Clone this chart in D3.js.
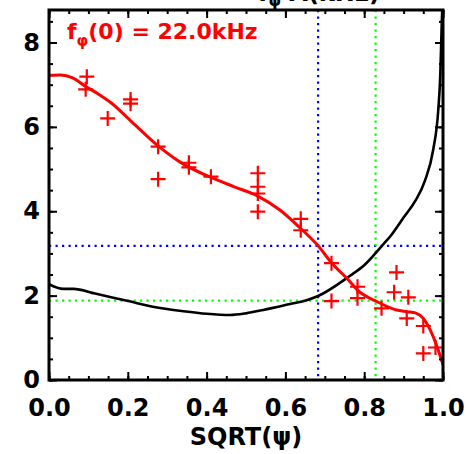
<!DOCTYPE html>
<html>
<head>
<meta charset="utf-8">
<script src="https://cdn.jsdelivr.net/npm/d3@7"></script>
<style>
  html, body { margin: 0; padding: 0; background: #fff; }
  svg { display: block; }
  text { font-family: "DejaVu Sans", sans-serif; font-weight: bold; }
</style>
</head>
<body>
<svg id="chart" width="466" height="454"></svg>
<script>
// Measured toroidal rotation frequency (kHz) vs SQRT(psi)
const measX = [0.096, 0.093, 0.149, 0.207, 0.207, 0.277, 0.277, 0.355, 0.355, 0.411,
               0.530, 0.530, 0.530, 0.530, 0.639, 0.639, 0.717, 0.717, 0.783, 0.783,
               0.844, 0.876, 0.882, 0.912, 0.908, 0.950, 0.950, 0.981];
const measY = [7.19, 6.89, 6.20, 6.65, 6.55, 5.53, 4.76, 5.15, 5.04, 4.82,
               4.90, 4.58, 4.42, 3.99, 3.82, 3.55, 2.77, 1.87, 2.21, 1.94,
               1.70, 2.08, 2.55, 1.96, 1.46, 1.28, 0.63, 0.77];

// Fitted rotation profile
const fitX = [0.00, 0.03, 0.06, 0.091, 0.125, 0.159, 0.21, 0.277, 0.332, 0.411, 0.47,
              0.530, 0.586, 0.639, 0.683, 0.717, 0.764, 0.783, 0.832, 0.882, 0.91,
              0.93, 0.95, 0.975, 0.99, 1.0];
const fitY = [7.22, 7.23, 7.16, 6.97, 6.78, 6.56, 6.12, 5.55, 5.17, 4.80, 4.58,
              4.36, 4.03, 3.59, 3.18, 2.78, 2.33, 2.13, 1.86, 1.66, 1.62,
              1.59, 1.46, 1.03, 0.65, 0.36];

// Safety-factor style profile (black curve)
const qX = [0.000, 0.036, 0.062, 0.117, 0.201, 0.286, 0.341, 0.40, 0.459, 0.50, 0.544,
            0.612, 0.65, 0.683, 0.764, 0.80, 0.845, 0.87, 0.90, 0.93, 0.954, 0.975,
            0.988, 0.993, 0.997, 1.0];
const qY = [2.27, 2.16, 2.16, 2.05, 1.87, 1.70, 1.63, 1.57, 1.54, 1.58, 1.66,
            1.80, 1.88, 1.99, 2.47, 2.72, 3.18, 3.45, 3.85, 4.25, 4.72, 5.45,
            6.40, 7.20, 8.50, 9.20];

// Reference markers (dotted lines)
const blueX = 0.683, blueY = 3.18;
const greenX = 0.829, greenY = 1.88;

const xMajor = [0, 0.2, 0.4, 0.6, 0.8, 1.0];
const xMinor = d3.range(0, 1.0001, 0.05);
const yMajor = [0, 2, 4, 6, 8];
const yMinor = d3.range(0, 8.7, 0.5);

const svg = d3.select("#chart");
const L = 49, R = 443, T = 10, B = 380;

const x = d3.scaleLinear().domain([0, 1]).range([L, R]);
const y = d3.scaleLinear().domain([0, 8.77]).range([B, T]);

svg.append("defs").append("clipPath").attr("id", "plotclip")
  .append("rect").attr("x", L).attr("y", T).attr("width", R - L).attr("height", B - T);

const plot = svg.append("g").attr("clip-path", "url(#plotclip)");

// Dotted reference lines
function dotted(x1, y1, x2, y2, color) {
  plot.append("line")
    .attr("x1", x1).attr("y1", y1).attr("x2", x2).attr("y2", y2)
    .attr("stroke", color).attr("stroke-width", 2.2)
    .attr("stroke-dasharray", "2.2,4.3");
}
dotted(x(blueX), T, x(blueX), B, "#0000ff");
dotted(L, y(blueY), R, y(blueY), "#0000ff");
dotted(x(greenX), T, x(greenX), B, "#00ff00");
dotted(L, y(greenY), R, y(greenY), "#00ff00");

const line = d3.line().x(d => x(d[0])).y(d => y(d[1])).curve(d3.curveMonotoneX);

plot.append("path")
  .datum(d3.zip(qX, qY))
  .attr("d", line)
  .attr("fill", "none").attr("stroke", "#000").attr("stroke-width", 2.6);

plot.append("path")
  .datum(d3.zip(fitX, fitY))
  .attr("d", line)
  .attr("fill", "none").attr("stroke", "#ff0000").attr("stroke-width", 3);

// Plus-sign markers for measurements
const arm = 7.5;
plot.append("g").selectAll("path")
  .data(d3.zip(measX, measY))
  .join("path")
  .attr("d", d => {
    const cx = x(d[0]), cy = y(d[1]);
    return `M${cx - arm},${cy}H${cx + arm}M${cx},${cy - arm}V${cy + arm}`;
  })
  .attr("stroke", "#ff0000").attr("stroke-width", 2.2).attr("fill", "none");

// Axes with inward ticks on all four sides
function styleAxis(g) {
  g.select(".domain").remove();
  g.selectAll(".tick line").attr("stroke", "#000").attr("stroke-width", 2);
  g.selectAll("text").attr("font-size", 24).attr("fill", "#000")
    .style("font-family", "'DejaVu Sans', sans-serif").style("font-weight", "bold");
}

svg.append("g").attr("transform", `translate(0,${B})`)
  .call(d3.axisBottom(x).tickValues(xMinor).tickSizeInner(-4).tickSizeOuter(0).tickFormat(""))
  .call(styleAxis);
svg.append("g").attr("transform", `translate(0,${B})`)
  .call(d3.axisBottom(x).tickValues(xMajor).tickSizeInner(-8).tickSizeOuter(0)
        .tickPadding(19).tickFormat(d3.format(".1f")))
  .call(styleAxis);
svg.append("g").attr("transform", `translate(0,${T})`)
  .call(d3.axisTop(x).tickValues(xMinor).tickSizeInner(-4).tickSizeOuter(0).tickFormat(""))
  .call(styleAxis);
svg.append("g").attr("transform", `translate(0,${T})`)
  .call(d3.axisTop(x).tickValues(xMajor).tickSizeInner(-8).tickSizeOuter(0).tickFormat(""))
  .call(styleAxis);

svg.append("g").attr("transform", `translate(${L},0)`)
  .call(d3.axisLeft(y).tickValues(yMinor).tickSizeInner(-4).tickSizeOuter(0).tickFormat(""))
  .call(styleAxis);
svg.append("g").attr("transform", `translate(${L},0)`)
  .call(d3.axisLeft(y).tickValues(yMajor).tickSizeInner(-8).tickSizeOuter(0)
        .tickPadding(9).tickFormat(d3.format("d")))
  .call(styleAxis);
svg.append("g").attr("transform", `translate(${R},0)`)
  .call(d3.axisRight(y).tickValues(yMinor).tickSizeInner(-4).tickSizeOuter(0).tickFormat(""))
  .call(styleAxis);
svg.append("g").attr("transform", `translate(${R},0)`)
  .call(d3.axisRight(y).tickValues(yMajor).tickSizeInner(-8).tickSizeOuter(0).tickFormat(""))
  .call(styleAxis);

// Plot frame
svg.append("rect")
  .attr("x", L).attr("y", T).attr("width", R - L).attr("height", B - T)
  .attr("fill", "none").attr("stroke", "#000").attr("stroke-width", 3);

// X-axis title
svg.append("text")
  .attr("x", (L + R) / 2).attr("y", 445)
  .attr("text-anchor", "middle").attr("font-size", 24).attr("fill", "#000")
  .text("SQRT(\u03c8)");

// Plot title (runs off the top edge of the page)
const title = svg.append("text")
  .attr("x", 258).attr("y", 1).attr("font-size", 24).attr("fill", "#000");
title.append("tspan").text("f");
title.append("tspan").attr("font-size", 16).attr("dy", 5).text("\u03c6");
title.append("tspan").attr("dy", -5).text("  A(kHz)");

// Central rotation annotation
const ann = svg.append("text")
  .attr("x", 67).attr("y", 39).attr("font-size", 22).attr("fill", "#ff0000");
ann.append("tspan").text("f");
ann.append("tspan").attr("font-size", 15).attr("dy", 7).text("\u03c6");
ann.append("tspan").attr("dy", -7).text("(0) = 22.0kHz");
</script>
</body>
</html>
